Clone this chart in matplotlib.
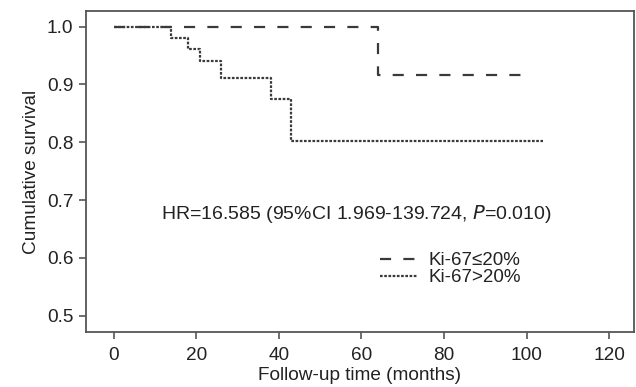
import matplotlib
matplotlib.use('Agg')
import matplotlib.pyplot as plt

# Kaplan-Meier step data
low_times = [0, 64, 99]
low_surv = [1.0, 0.917, 0.917]

high_times = [0, 14, 18, 21, 26, 38, 43, 104]
high_surv = [1.0, 0.981, 0.961, 0.941, 0.911, 0.875, 0.803, 0.803]

x_ticks = [0, 20, 40, 60, 80, 100, 120]
y_ticks = [0.5, 0.6, 0.7, 0.8, 0.9, 1.0]

plt.rcParams['font.family'] = ['Liberation Sans', 'DejaVu Sans']

fig = plt.figure(figsize=(6.36, 3.87), dpi=100)
ax = fig.add_axes([86 / 636, 1 - 332 / 387, (634 - 86) / 636, (332 - 11) / 387])

ax.step(low_times, low_surv, where='post', color='#3a3a3a', lw=1.6,
        linestyle=(0, (5, 5.5)), label='Ki-67≤20%')
ax.step(high_times, high_surv, where='post', color='#3a3a3a', lw=1.6,
        linestyle=(0, (1.2, 0.7)), label='Ki-67>20%')

ax.set_xlim(-6.7, 126)
ax.set_ylim(0.472, 1.027)
ax.set_xticks(x_ticks)
ax.set_yticks(y_ticks)
ax.set_yticklabels([f'{v:.1f}' for v in y_ticks])
ax.tick_params(labelsize=13.7, color='#555', length=5, width=1.2, colors='#222')
ax.tick_params(axis='x', pad=6)
ax.tick_params(axis='y', pad=4)
for s in ax.spines.values():
    s.set_color('#555')
    s.set_linewidth(1.3)

ax.set_xlabel('Follow-up time (months)', fontsize=13.7, color='#222', labelpad=2)
ax.set_ylabel('Cumulative survival', fontsize=13.7, color='#222', labelpad=5)

ax.text(0.494, 0.368, 'HR=16.585 (95%CI 1.969-139.724, $\\it{P}$=0.010)',
        transform=ax.transAxes, ha='center', va='center', fontsize=14, color='#222')

leg = ax.legend(loc='center left', bbox_to_anchor=(0.52, 0.196), frameon=False,
                fontsize=13.5, handlelength=2.0, handletextpad=0.55, labelspacing=0.0,
                borderpad=0)
for t in leg.get_texts():
    t.set_color('#222')

fig.savefig('out.png', dpi=100)
